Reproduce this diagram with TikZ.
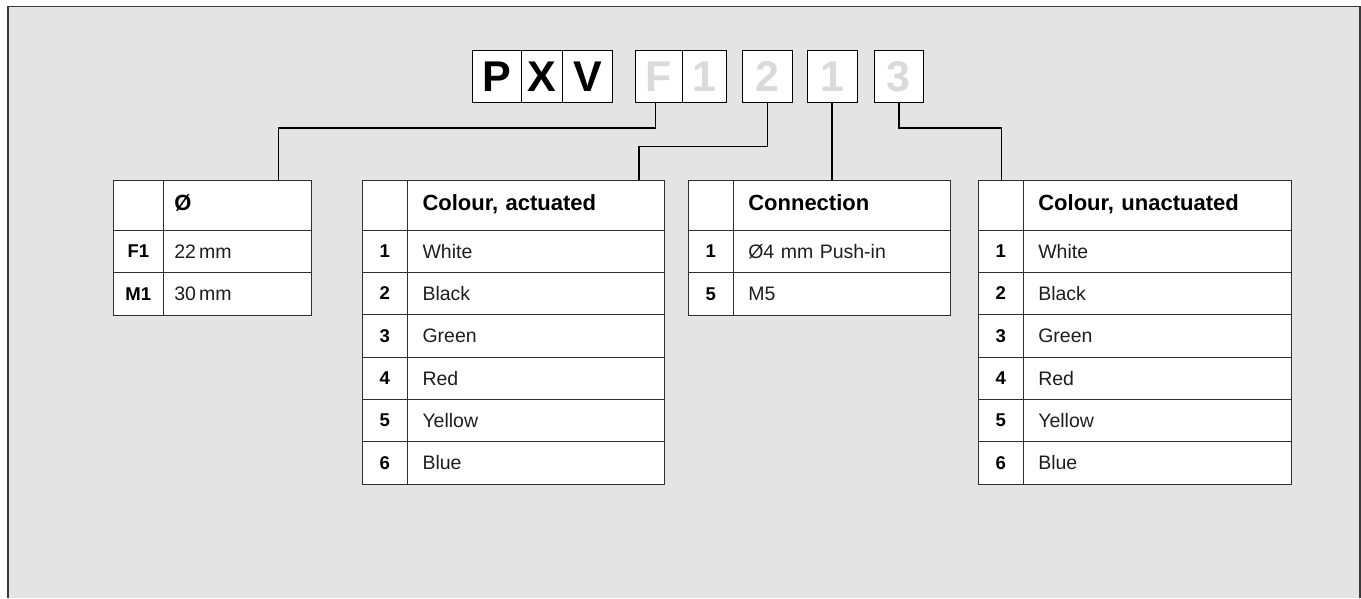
\documentclass[tikz,border=0pt]{standalone}
\usepackage{fontspec}
\setmainfont{Liberation Sans}
\definecolor{bggray}{HTML}{E4E4E4}
\definecolor{framecol}{HTML}{3A3A3A}
\definecolor{tblline}{HTML}{2E2E2E}
\definecolor{codegray}{HTML}{DADADA}
\definecolor{bodytext}{HTML}{1E1E1E}
\tikzset{
  cell/.style={draw=tblline, fill=white, line width=1pt, anchor=north west, inner sep=0pt, outer sep=0pt},
  numcell/.style={cell, font=\fontsize{18.5}{20}\selectfont\bfseries},
  txtcell/.style={cell, font=\fontsize{19.5}{22}\selectfont, text=bodytext, align=left},
  hdcell/.style={cell, font=\fontsize{22}{24}\selectfont\bfseries, align=left},
  codebox/.style={draw=black, fill=white, line width=1pt, anchor=north west, minimum height=52pt, inner sep=0pt, outer sep=0pt, font=\fontsize{43}{43}\selectfont\bfseries},
  codedark/.style={codebox, text=black},
  codelight/.style={codebox, text=codegray},
  conn/.style={draw=black, line width=1.3pt},
}
\newcommand\hd[1]{\vphantom{Cg,}#1}
% #1 name, #2 x0, #3 xc, #4 x1, #5 y0, #6 h, #7 number, #8 text, #9 style
\newcommand\tblrow[9]{%
  \pgfmathsetmacro\wa{#3-#2}%
  \pgfmathsetmacro\wb{#4-#3-2*\tinset}%
  \node[numcell, minimum width=\wa pt, minimum height=#6 pt] (#1n) at (#2,#5) {#7};
  \node[#9, text width=\wb pt, inner xsep=\tinset pt, minimum height=#6 pt] (#1t) at (#3,#5) {#8};
}
\begin{document}
\begin{tikzpicture}[x=1pt,y=-1pt]
\useasboundingbox (0,0) rectangle (1361,598);
% frame
\fill[bggray] (8,6.5) rectangle (1360,598);
\draw[framecol, line width=1.5pt] (8,598) -- (8,6.5) -- (1360,6.5) -- (1360,598);

% code boxes
\node[codedark, minimum width=48.7pt] (cP) at (472.3,50.7) {P};
\node[codedark, minimum width=41.7pt] (cX) at (521,50.7) {X};
\node[codedark, minimum width=50pt] (cV) at (562.7,50.7) {V};
\node[codelight, minimum width=46.6pt] (cF) at (635.7,50.7) {F};
\node[codelight, minimum width=43.7pt] (cOneA) at (682.3,50.7) {1};
\node[codelight, minimum width=50pt] (cTwo) at (742.7,50.7) {2};
\node[codelight, minimum width=50pt] (cOneB) at (807,50.7) {1};
\node[codelight, minimum width=49.7pt] (cThree) at (874,50.7) {3};

% connector ends
\coordinate (k1) at (278.3,180.5);
\coordinate (k2) at (639,180.5);
\coordinate (k3) at (832,180.5);
\coordinate (k4) at (1001.7,180.5);
\draw[conn] ([xshift=-3.3pt]cF.south) -- ++(0,25.3) -| (k1);
\draw[conn] (cTwo.south) -- ++(0,44) -| (k2);
\draw[conn] (cOneB.south) -- (k3);
\draw[conn] (cThree.south) -- ++(0,25.3) -| (k4);

% Table 1
\def\tinset{11}
\tblrow{ta0}{113.3}{163.3}{311.7}{180.5}{49.5}{}{\hd{\O}}{hdcell}
\tblrow{ta1}{113.3}{163.3}{311.7}{230}{42.6}{F1}{22\,mm}{txtcell}
\tblrow{ta2}{113.3}{163.3}{311.7}{272.6}{43.1}{M1}{30\,mm}{txtcell}

% Table 2
\def\tinset{15}
\tblrow{tb0}{362}{407.5}{664}{180.5}{49.5}{}{\hd{Colour, actuated}}{hdcell}
\tblrow{tb1}{362}{407.5}{664}{230}{42.35}{1}{White}{txtcell}
\tblrow{tb2}{362}{407.5}{664}{272.35}{42.35}{2}{Black}{txtcell}
\tblrow{tb3}{362}{407.5}{664}{314.7}{42.35}{3}{Green}{txtcell}
\tblrow{tb4}{362}{407.5}{664}{357.05}{42.35}{4}{Red}{txtcell}
\tblrow{tb5}{362}{407.5}{664}{399.4}{42.35}{5}{Yellow}{txtcell}
\tblrow{tb6}{362}{407.5}{664}{441.75}{42.35}{6}{Blue}{txtcell}

% Table 3
\tblrow{tc0}{688.3}{733.3}{950}{180.5}{49.5}{}{\hd{Connection}}{hdcell}
\tblrow{tc1}{688.3}{733.3}{950}{230}{42.6}{1}{\O4 mm Push-in}{txtcell}
\tblrow{tc2}{688.3}{733.3}{950}{272.6}{43.1}{5}{M5}{txtcell}

% Table 4
\tblrow{td0}{978}{1023.3}{1291.3}{180.5}{49.5}{}{\hd{Colour, unactuated}}{hdcell}
\tblrow{td1}{978}{1023.3}{1291.3}{230}{42.35}{1}{White}{txtcell}
\tblrow{td2}{978}{1023.3}{1291.3}{272.35}{42.35}{2}{Black}{txtcell}
\tblrow{td3}{978}{1023.3}{1291.3}{314.7}{42.35}{3}{Green}{txtcell}
\tblrow{td4}{978}{1023.3}{1291.3}{357.05}{42.35}{4}{Red}{txtcell}
\tblrow{td5}{978}{1023.3}{1291.3}{399.4}{42.35}{5}{Yellow}{txtcell}
\tblrow{td6}{978}{1023.3}{1291.3}{441.75}{42.35}{6}{Blue}{txtcell}
\end{tikzpicture}
\end{document}
